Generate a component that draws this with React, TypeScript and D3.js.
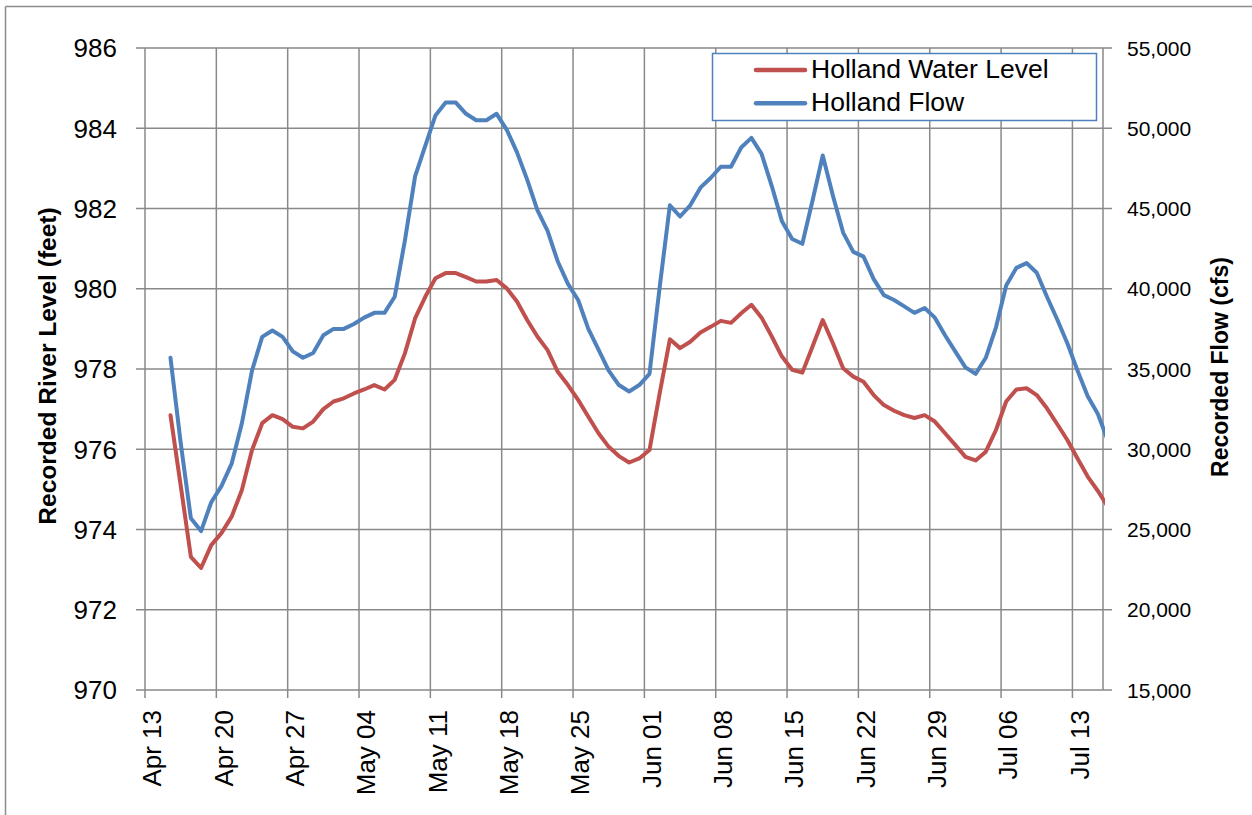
import React from "react";
import * as d3 from "d3";

// ---- data ----
const axisStart = new Date(Date.UTC(2011, 3, 13));
const axisEnd = new Date(Date.UTC(2011, 6, 16));
const firstObservation = new Date(Date.UTC(2011, 3, 15));

const waterLevel = [
  976.85, 975.1, 973.32, 973.04, 973.61, 973.91, 974.32, 974.98, 975.98, 976.65,
  976.85, 976.75, 976.56, 976.52, 976.69, 977.0, 977.19, 977.27, 977.39, 977.49,
  977.6, 977.49, 977.73, 978.39, 979.26, 979.8, 980.26, 980.39, 980.39, 980.29,
  980.18, 980.18, 980.22, 980.01, 979.68, 979.22, 978.81, 978.47, 977.93, 977.6,
  977.23, 976.81, 976.4, 976.06, 975.83, 975.67, 975.77, 975.98, 977.39, 978.74,
  978.52, 978.68, 978.91, 979.05, 979.2, 979.15, 979.39, 979.6, 979.28, 978.81,
  978.31, 977.98, 977.91, 978.56, 979.22, 978.64, 978.02, 977.81, 977.68, 977.35,
  977.1, 976.96, 976.85, 976.78, 976.85, 976.69, 976.4, 976.11, 975.81, 975.72,
  975.94, 976.48, 977.19, 977.49, 977.52, 977.35, 977.02, 976.63, 976.23, 975.77,
  975.32, 974.96, 974.56,
];

const flow = [
  35700, 30400, 25700, 24900, 26700, 27700, 29100, 31600, 34900, 37000,
  37400, 37000, 36100, 35700, 36000, 37100, 37500, 37500, 37800, 38200,
  38500, 38500, 39500, 43000, 47000, 48900, 50800, 51600, 51600, 50900,
  50500, 50500, 50900, 49900, 48500, 46800, 44900, 43600, 41700, 40300,
  39300, 37500, 36200, 34900, 34000, 33600, 34000, 34700, 40100, 45200,
  44500, 45200, 46300, 46900, 47600, 47600, 48800, 49400, 48400, 46400,
  44200, 43100, 42800, 45500, 48300, 45800, 43500, 42300, 42000, 40600,
  39600, 39300, 38900, 38500, 38800, 38200, 37100, 36100, 35100, 34700,
  35700, 37600, 40200, 41300, 41600, 41000, 39500, 38100, 36600, 34900,
  33300, 32200, 30500,
];

const levelTicks = [970, 972, 974, 976, 978, 980, 982, 984, 986];
const flowTicks = [15000, 20000, 25000, 30000, 35000, 40000, 45000, 50000, 55000];
const dateTickCount = 14;
const seriesNames = ["Holland Water Level", "Holland Flow"];
const seriesColors = ["#C0504D", "#4F81BD"];

// ---- layout ----
const W = 1252;
const H = 815;
const left = 145;
const right = 1103;
const top = 48;
const bottom = 690;
const gridColor = "#898989";
const font = "'Liberation Sans', Arial, sans-serif";

export default function App() {
  const x = d3.scaleUtc().domain([axisStart, axisEnd]).range([left, right]);
  const yL = d3.scaleLinear().domain([970, 986]).range([bottom, top]);
  const yR = d3.scaleLinear().domain([15000, 55000]).range([bottom, top]);

  const dates = waterLevel.map((_, i) =>
    d3.utcHour.offset(d3.utcDay.offset(firstObservation, i), 12)
  );
  const dateTicks = d3.range(dateTickCount).map((i) => d3.utcDay.offset(axisStart, i * 7));
  const fmt = d3.utcFormat("%b %d");
  const fmtFlow = d3.format(",");

  const levelLine = d3
    .line<number>()
    .x((_, i) => x(dates[i]))
    .y((d) => yL(d));
  const flowLine = d3
    .line<number>()
    .x((_, i) => x(dates[i]))
    .y((d) => yR(d));

  return (
    <svg
      width={W}
      height={H}
      style={{ position: "absolute", left: 0, top: 0, background: "#fff" }}
      fontFamily={font}
    >
      <defs>
        <clipPath id="plotClip">
          <rect x={left} y={top - 10} width={right - left + 2} height={bottom - top + 20} />
        </clipPath>
      </defs>
      {/* outer chart border */}
      <line x1={5.5} y1={6.5} x2={W} y2={6.5} stroke="#8c8c8c" strokeWidth={1.5} />
      <line x1={5.5} y1={6.5} x2={5.5} y2={H} stroke="#8c8c8c" strokeWidth={1.5} />

      {/* horizontal gridlines + left ticks */}
      {levelTicks.map((t) => (
        <g key={"h" + t}>
          <line x1={left - 9} x2={right} y1={yL(t)} y2={yL(t)} stroke={gridColor} strokeWidth={1.5} />
          <text x={117} y={yL(t)} dy="0.36em" textAnchor="end" fontSize={26} fill="#000">
            {t}
          </text>
        </g>
      ))}
      {/* right ticks */}
      {flowTicks.map((t) => (
        <g key={"r" + t}>
          <line x1={right} x2={right + 9} y1={yR(t)} y2={yR(t)} stroke={gridColor} strokeWidth={1.5} />
          <text x={1127} y={yR(t)} dy="0.36em" textAnchor="start" fontSize={21} fill="#000">
            {fmtFlow(t)}
          </text>
        </g>
      ))}
      {/* vertical gridlines + date labels */}
      {dateTicks.map((d, i) => (
        <g key={"v" + i}>
          <line x1={x(d)} x2={x(d)} y1={top} y2={bottom + 8} stroke={gridColor} strokeWidth={1.5} />
          <text
            transform={`translate(${x(d) + 7},${710}) rotate(-90)`}
            dy="0.36em"
            textAnchor="end"
            fontSize={26}
            fill="#000"
          >
            {fmt(d)}
          </text>
        </g>
      ))}
      {/* right axis line */}
      <line x1={right} x2={right} y1={top} y2={bottom} stroke={gridColor} strokeWidth={1.5} />

      {/* series */}
      <g clipPath="url(#plotClip)" fill="none" strokeLinejoin="round" strokeLinecap="round">
        <path d={levelLine(waterLevel) || ""} stroke={seriesColors[0]} strokeWidth={4} />
        <path d={flowLine(flow) || ""} stroke={seriesColors[1]} strokeWidth={4} />
      </g>

      {/* legend */}
      <rect x={712.5} y={53.5} width={384} height={67} fill="#fff" stroke="#4F81BD" strokeWidth={1.5} />
      {seriesNames.map((name, i) => (
        <g key={name}>
          <line
            x1={756}
            x2={805}
            y1={70 + i * 33.3}
            y2={70 + i * 33.3}
            stroke={seriesColors[i]}
            strokeWidth={4.5}
            strokeLinecap="round"
          />
          <text x={811} y={78 + i * 33.3} fontSize={26.5} fill="#000">
            {name}
          </text>
        </g>
      ))}

      {/* axis titles */}
      <text
        transform={`translate(56,366) rotate(-90)`}
        textAnchor="middle"
        fontSize={24.5}
        fontWeight="bold"
        fill="#000"
      >
        Recorded River Level (feet)
      </text>
      <text
        transform={`translate(1228,367) rotate(-90)`}
        textAnchor="middle"
        fontSize={23}
        fontWeight="bold"
        fill="#000"
      >
        Recorded Flow (cfs)
      </text>
    </svg>
  );
}
